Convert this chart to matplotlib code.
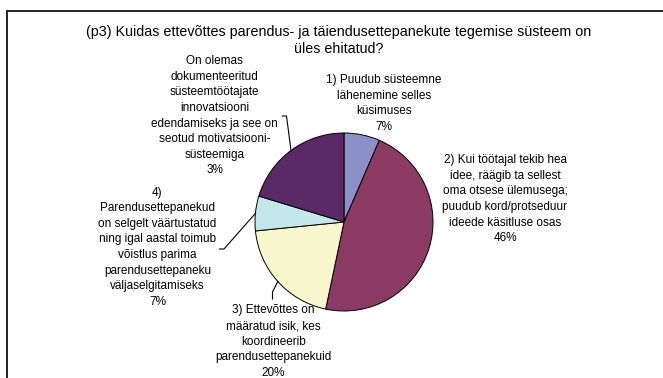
import numpy as np
import matplotlib
matplotlib.use('Agg')
import matplotlib.pyplot as plt
from matplotlib.lines import Line2D

# chart data (slice sizes, printed labels as in the chart)
title = ('(p3) Kuidas ettevõttes parendus- ja täiendusettepanekute tegemise süsteem on\n'
         'üles ehitatud?')
shares = [6.5, 46.8, 20.1, 6.3, 20.3]
categories = [
    '1) Puudub süsteemne\nlähenemine selles\nküsimuses',
    '2) Kui töötajal tekib hea\nidee, räägib ta sellest\noma otsese ülemusega;\n'
    'puudub kord/protseduur\nideede käsitluse osas',
    '3) Ettevõttes on\nmääratud isik, kes\nkoordineerib\nparendusettepanekuid',
    '4)\nParendusettepanekud\non selgelt väärtustatud\nning igal aastal toimub\n'
    'võistlus parima\nparendusettepaneku\nväljaselgitamiseks',
    'On olemas\ndokumenteeritud\nsüsteemtöötajate\ninnovatsiooni\nedendamiseks ja see on\n'
    'seotud motivatsiooni-\nsüsteemiga',
]
pct_labels = ['7%', '46%', '20%', '7%', '3%']
colors = ['#8C90C8', '#8B3A64', '#F8F6CC', '#C4E7EC', '#5B2966']

W, H = 663, 378
plt.rcParams['font.family'] = ['Liberation Sans', 'DejaVu Sans']

fig = plt.figure(figsize=(W / 100, H / 100), dpi=100)
ax = fig.add_axes([0, 0, 1, 1])
ax.set_xlim(0, W)
ax.set_ylim(0, H)
ax.set_aspect('equal')
ax.axis('off')


def py(y):
    # pixel row (from top) -> data y
    return H - y


# outer frame of the chart area
fig.add_artist(Line2D([7 / W, 1], [1 - 11 / H, 1 - 11 / H], color='#222222', lw=1.4))
fig.add_artist(Line2D([7 / W, 7 / W], [1 - 11 / H, 0], color='#222222', lw=1.4))

cx, cy, r = 344, py(222), 89
wedges, _ = ax.pie(shares, colors=colors, startangle=90, counterclock=False,
                   center=(cx, cy), radius=r,
                   wedgeprops=dict(edgecolor='black', linewidth=0.7))
ax.set_xlim(0, W)
ax.set_ylim(0, H)

ax.text(339, py(40.5), title, ha='center', va='center', fontsize=10.3,
        linespacing=1.35)

# label placement (centre of each text block, pixel coords)
label_pos = [(384, 103.5), (505, 199.2), (273.5, 341.7), (157.5, 247.2), (214.5, 115.8)]
for (lx, ly), cat, pct in zip(label_pos, categories, pct_labels):
    ax.text(lx, py(ly), cat + '\n' + pct, ha='center', va='center',
            fontsize=8.5, linespacing=1.4)

# leader lines for the small outside labels
leaders = {2: [(272.5, 299), (272.5, 292)],
           3: [(219.5, 249), (224, 249)],
           4: [(282.5, 116), (286.5, 116)]}
for i, pts in leaders.items():
    w = wedges[i]
    mid = np.deg2rad((w.theta1 + w.theta2) / 2)
    ex, ey = cx + r * np.cos(mid), cy + r * np.sin(mid)
    xs = [p[0] for p in pts] + [ex]
    ys = [py(p[1]) for p in pts] + [ey]
    ax.plot(xs, ys, color='black', lw=0.8)

fig.savefig('out.png', dpi=100)
